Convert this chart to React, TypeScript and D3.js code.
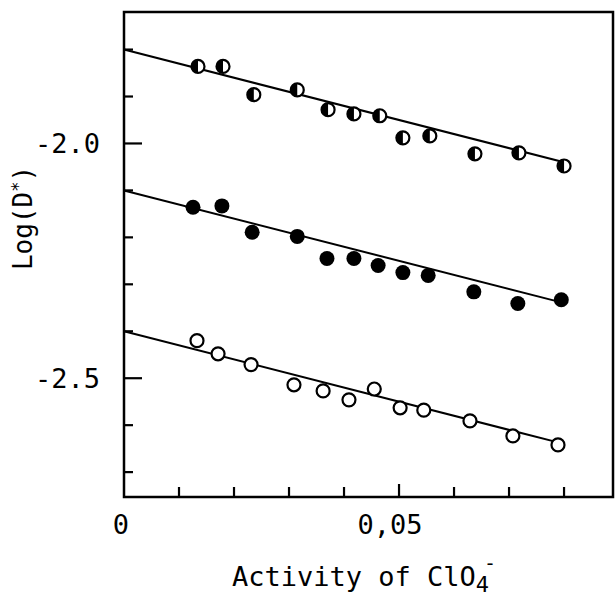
import React from "react";
import * as d3 from "d3";

const halfX = [0.01345, 0.018, 0.0236, 0.0315, 0.0371, 0.0418, 0.0465, 0.0507, 0.0556, 0.0638, 0.0718, 0.08];
const halfY = [-1.836, -1.836, -1.896, -1.886, -1.928, -1.937, -1.941, -1.988, -1.984, -2.022, -2.02, -2.048];

const filledX = [0.01255, 0.0178, 0.0233, 0.0315, 0.0369, 0.0418, 0.0462, 0.0507, 0.0553, 0.0636, 0.0716, 0.0795];
const filledY = [-2.136, -2.133, -2.189, -2.198, -2.245, -2.245, -2.26, -2.275, -2.281, -2.316, -2.341, -2.333];

const openX = [0.01327, 0.0171, 0.0231, 0.0309, 0.0362, 0.0409, 0.0455, 0.0502, 0.0545, 0.0629, 0.0707, 0.0789];
const openY = [-2.42, -2.448, -2.471, -2.514, -2.527, -2.546, -2.523, -2.563, -2.568, -2.591, -2.623, -2.642];

const fitIntercepts = [-1.8, -2.1, -2.4];
const fitSlopes = [-3.0, -3.0, -3.0];

const yTicks = [-1.8, -1.9, -2.0, -2.1, -2.2, -2.3, -2.4, -2.5, -2.6, -2.7];
const yMajor = [-2.0, -2.5];
const yLabels = ["-2.0", "-2.5"];
const xTicks = [0.01, 0.02, 0.03, 0.04, 0.05, 0.06, 0.07, 0.08];
const xLabelVals = [0, 0.05];
const xLabels = ["0", "0,05"];

const W = 616, H = 600;
const L = 124, R = 613, T = 12, B = 497;
const FONT = "'DejaVu Sans Mono', monospace";

export default function App() {
  const x = d3.scaleLinear().domain([0, 0.0889]).range([L, R]);
  const y = d3.scaleLinear().domain([-2.753, -1.72]).range([B, T]);
  const line = d3.line<[number, number]>().x(d => x(d[0])).y(d => y(d[1]));

  const series = [
    { xs: halfX, ys: halfY, kind: "half" },
    { xs: filledX, ys: filledY, kind: "filled" },
    { xs: openX, ys: openY, kind: "open" },
  ];
  const r = 6.5;
  const halfPath = (cx: number, cy: number) =>
    `M${cx},${cy - r}A${r},${r} 0 0 0 ${cx},${cy + r}Z`;

  return (
    <svg width={W} height={H} style={{ position: "absolute", left: 0, top: 0, background: "#fff" }}>
      <rect x={0} y={0} width={W} height={H} fill="#fff" />
      {series.map((s, i) => {
        const x1 = s.xs[s.xs.length - 1];
        const pts: [number, number][] = [
          [0, fitIntercepts[i]],
          [x1, fitIntercepts[i] + fitSlopes[i] * x1],
        ];
        return <path key={"l" + i} d={line(pts) || ""} stroke="#000" strokeWidth={2} fill="none" />;
      })}
      {series.map((s, i) =>
        s.xs.map((xv, j) => {
          const cx = x(xv), cy = y(s.ys[j]);
          if (s.kind === "filled")
            return <circle key={`m${i}-${j}`} cx={cx} cy={cy} r={r + 1} fill="#000" />;
          if (s.kind === "open")
            return <circle key={`m${i}-${j}`} cx={cx} cy={cy} r={r} fill="#fff" stroke="#000" strokeWidth={2.2} />;
          return (
            <g key={`m${i}-${j}`}>
              <circle cx={cx} cy={cy} r={r} fill="#fff" stroke="#000" strokeWidth={2.2} />
              <path d={halfPath(cx, cy)} fill="#000" />
            </g>
          );
        })
      )}
      <rect x={L} y={T} width={R - L} height={B - T} fill="none" stroke="#000" strokeWidth={2.5} />
      {yTicks.map((t, i) => {
        const major = yMajor.some(m => Math.abs(m - t) < 1e-9);
        return <line key={"yt" + i} x1={L} x2={L + (major ? 18 : 9)} y1={y(t)} y2={y(t)} stroke="#000" strokeWidth={2.2} />;
      })}
      {xTicks.map((t, i) => {
        const major = Math.abs(t - 0.05) < 1e-9;
        return <line key={"xt" + i} x1={x(t)} x2={x(t)} y1={B} y2={B - (major ? 13 : 10)} stroke="#000" strokeWidth={2.2} />;
      })}
      {yMajor.map((t, i) => (
        <text key={"yl" + i} x={L - 24} y={y(t) + 10} textAnchor="end" fontFamily={FONT} fontSize={27} fill="#000">
          {yLabels[i]}
        </text>
      ))}
      {xLabelVals.map((t, i) => (
        <text key={"xl" + i} x={x(t) - (i === 1 ? 9 : 3)} y={534} textAnchor="middle" fontFamily={FONT} fontSize={27} fill="#000">
          {xLabels[i]}
        </text>
      ))}
      <text x={232} y={586} fontFamily={FONT} fontSize={27} fill="#000">
        Activity of ClO
        <tspan dy={6} fontSize={22}>4</tspan>
      </text>
      <text x={484} y={570} fontFamily={FONT} fontSize={20} fill="#000">-</text>
      <text transform="translate(32,218) rotate(-90)" textAnchor="middle" fontFamily={FONT} fontSize={26} fill="#000">
        Log(D
        <tspan dy={-8} fontSize={17}>*</tspan>
        <tspan dy={8}>)</tspan>
      </text>
    </svg>
  );
}
